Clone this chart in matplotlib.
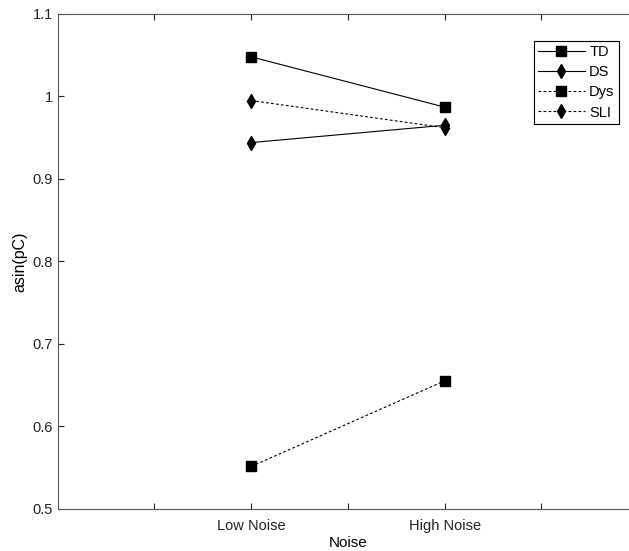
import matplotlib
matplotlib.use('Agg')
import matplotlib.pyplot as plt

plt.rcParams['font.family'] = ['Liberation Sans', 'DejaVu Sans']

# data
conditions = ['Low Noise', 'High Noise']
groups = ['TD', 'DS', 'Dys', 'SLI']
values = {
    'TD': [1.048, 0.987],
    'DS': [0.944, 0.965],
    'Dys': [0.551, 0.655],
    'SLI': [0.995, 0.962],
}
styles = {
    'TD': ('-', 's'),
    'DS': ('-', 'd'),
    'Dys': ('--', 's'),
    'SLI': ('--', 'd'),
}

x_pos = [1, 2]
tick_pos = [0.5, 1, 1.5, 2, 2.5]
tick_labels = ['', conditions[0], '', conditions[1], '']

fig = plt.figure(figsize=(6.29, 5.51), dpi=100)
ax = fig.add_axes([0.0917, 0.0771, 0.923, 0.8975])

handles = []
for g in groups:
    ls, mk = styles[g]
    h, = ax.plot(x_pos, values[g], color='black', linestyle=ls, linewidth=0.8,
                 marker=mk, markersize=6.5 if mk == 's' else 7,
                 markerfacecolor='black', markeredgecolor='black',
                 dashes=(2.5, 2) if ls == '--' else (None, None))
    handles.append(h)

ax.set_xlim(0, 3)
ax.set_ylim(0.5, 1.1)
ax.set_xticks(tick_pos)
ax.set_xticklabels(tick_labels)
ax.set_yticks([0.5, 0.6, 0.7, 0.8, 0.9, 1.0, 1.1])
ax.set_yticklabels(['0.5', '0.6', '0.7', '0.8', '0.9', '1', '1.1'])
ax.tick_params(direction='in', top=True, right=True, length=4, width=0.8,
               labelsize=10.5, colors='#222222')
ax.tick_params(axis='x', pad=7.5)
ax.tick_params(axis='y', pad=3.5)
for s in ax.spines.values():
    s.set_color('#555555')
    s.set_linewidth(0.8)

ax.set_xlabel('Noise', fontsize=11, labelpad=2)
ax.set_ylabel('asin(pC)', fontsize=11.5, labelpad=4)

leg = fig.legend(handles, groups, loc='upper right', bbox_to_anchor=(0.984, 0.926),
                 fontsize=10.5, handlelength=3.2, handletextpad=0.3,
                 labelspacing=0.42, borderpad=0.3, borderaxespad=0,
                 fancybox=False, edgecolor='black', framealpha=1)
leg.get_frame().set_linewidth(0.8)

fig.savefig('out.png', dpi=100)
